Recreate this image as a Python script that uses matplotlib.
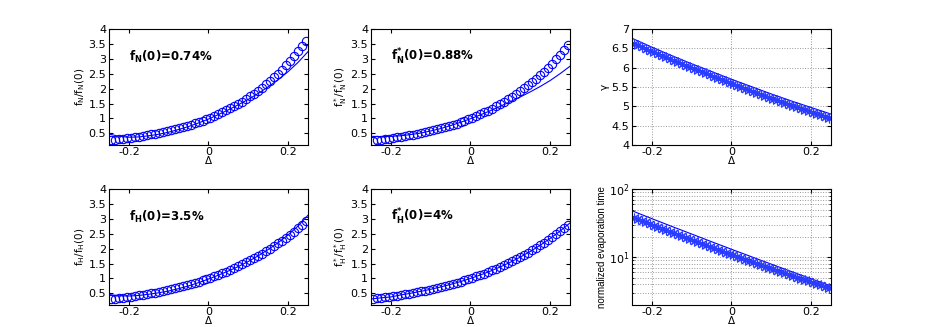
import matplotlib

matplotlib.use("Agg")
import matplotlib.pyplot as plt
from matplotlib.ticker import LogLocator, NullFormatter

# sample grid of the marker series
delta_pts = [-0.245, -0.235, -0.225, -0.215, -0.205, -0.195, -0.185, -0.175, -0.165, -0.155,
             -0.145, -0.135, -0.125, -0.115, -0.105, -0.095, -0.085, -0.075, -0.065, -0.055,
             -0.045, -0.035, -0.025, -0.015, -0.005, 0.005, 0.015, 0.025, 0.035, 0.045,
             0.055, 0.065, 0.075, 0.085, 0.095, 0.105, 0.115, 0.125, 0.135, 0.145,
             0.155, 0.165, 0.175, 0.185, 0.195, 0.205, 0.215, 0.225, 0.235, 0.245]

# grids of the fitted lines
delta_fine = [-0.25, -0.225, -0.2, -0.175, -0.15, -0.125, -0.1, -0.075, -0.05, -0.025, 0.0,
              0.025, 0.05, 0.075, 0.1, 0.125, 0.15, 0.175, 0.2, 0.225, 0.25]
delta_coarse = [-0.25, -0.2, -0.15, -0.1, -0.05, 0.0, 0.05, 0.1, 0.15, 0.2, 0.25]

fN_pts = [0.270, 0.285, 0.301, 0.317, 0.335, 0.353, 0.373, 0.393, 0.415, 0.438,
          0.462, 0.488, 0.514, 0.543, 0.572, 0.604, 0.637, 0.672, 0.708, 0.747,
          0.788, 0.831, 0.876, 0.924, 0.974, 1.027, 1.083, 1.141, 1.203, 1.268,
          1.337, 1.409, 1.485, 1.565, 1.649, 1.738, 1.831, 1.930, 2.034, 2.143,
          2.257, 2.379, 2.507, 2.641, 2.782, 2.930, 3.086, 3.251, 3.421, 3.604]
fN_fit = [0.48, 0.40, 0.37, 0.38, 0.42, 0.47, 0.54, 0.63, 0.73, 0.85, 0.98,
          1.13, 1.29, 1.46, 1.64, 1.84, 2.06, 2.30, 2.57, 2.88, 3.24]

fNs_pts = [0.259, 0.275, 0.291, 0.308, 0.326, 0.345, 0.365, 0.386, 0.408, 0.431,
           0.456, 0.482, 0.509, 0.538, 0.569, 0.600, 0.634, 0.670, 0.707, 0.746,
           0.787, 0.830, 0.876, 0.924, 0.974, 1.027, 1.082, 1.140, 1.202, 1.266,
           1.333, 1.404, 1.478, 1.556, 1.638, 1.723, 1.813, 1.907, 2.006, 2.109,
           2.217, 2.330, 2.449, 2.573, 2.703, 2.839, 2.981, 3.130, 3.285, 3.448]
fNs_fit = [0.40, 0.39, 0.40, 0.42, 0.46, 0.51, 0.58, 0.66, 0.76, 0.87, 0.99,
           1.12, 1.26, 1.41, 1.56, 1.72, 1.89, 2.07, 2.27, 2.50, 2.75]

fH_pts = [0.300, 0.316, 0.332, 0.350, 0.368, 0.388, 0.408, 0.429, 0.451, 0.474,
          0.498, 0.524, 0.550, 0.578, 0.607, 0.637, 0.669, 0.702, 0.736, 0.772,
          0.810, 0.849, 0.890, 0.932, 0.977, 1.023, 1.072, 1.122, 1.175, 1.229,
          1.286, 1.346, 1.407, 1.472, 1.538, 1.608, 1.680, 1.755, 1.833, 1.914,
          1.998, 2.085, 2.176, 2.270, 2.368, 2.469, 2.574, 2.683, 2.796, 2.912]
fH_fit = [0.46, 0.42, 0.41, 0.43, 0.47, 0.52, 0.58, 0.66, 0.75, 0.86, 0.98,
          1.11, 1.25, 1.40, 1.57, 1.76, 1.97, 2.20, 2.46, 2.76, 3.12]

fHs_pts = [0.320, 0.336, 0.352, 0.370, 0.388, 0.407, 0.427, 0.448, 0.470, 0.492,
           0.516, 0.541, 0.567, 0.594, 0.622, 0.651, 0.682, 0.714, 0.747, 0.782,
           0.818, 0.855, 0.895, 0.935, 0.978, 1.022, 1.069, 1.117, 1.166, 1.218,
           1.272, 1.329, 1.387, 1.448, 1.511, 1.576, 1.645, 1.715, 1.789, 1.865,
           1.944, 2.026, 2.112, 2.200, 2.292, 2.387, 2.486, 2.588, 2.693, 2.803]
fHs_fit = [0.31, 0.35, 0.38, 0.448, 0.504, 0.567, 0.636, 0.714, 0.80, 0.895, 1.0,
           1.117, 1.245, 1.387, 1.543, 1.715, 1.904, 2.112, 2.339, 2.588, 2.86]

gamma_pts = [6.620, 6.575, 6.531, 6.487, 6.442, 6.399, 6.355, 6.312, 6.268, 6.225,
             6.183, 6.140, 6.098, 6.056, 6.014, 5.973, 5.932, 5.891, 5.850, 5.809,
             5.769, 5.729, 5.689, 5.649, 5.610, 5.570, 5.532, 5.493, 5.454, 5.416,
             5.378, 5.340, 5.303, 5.266, 5.228, 5.192, 5.155, 5.119, 5.082, 5.047,
             5.011, 4.975, 4.940, 4.905, 4.871, 4.836, 4.802, 4.768, 4.734, 4.700]
gamma_fit_a = [6.76, 6.53, 6.31, 6.10, 5.90, 5.70, 5.51, 5.32, 5.14, 4.97, 4.80]
gamma_fit_b = [6.66, 6.438, 6.222, 6.012, 5.808, 5.61, 5.418, 5.232, 5.052, 4.878, 4.71]

tevap_pts = [38.0, 36.04, 34.18, 32.41, 30.75, 29.17, 27.68, 26.27, 24.95, 23.69,
             22.50, 21.38, 20.31, 19.30, 18.35, 17.45, 16.59, 15.78, 15.01, 14.28,
             13.60, 12.95, 12.33, 11.74, 11.18, 10.65, 10.15, 9.68, 9.22, 8.80,
             8.39, 8.00, 7.64, 7.29, 6.96, 6.64, 6.34, 6.06, 5.79, 5.53,
             5.29, 5.05, 4.83, 4.62, 4.42, 4.23, 4.05, 3.87, 3.71, 3.55]
tevap_fit_a = [48.0, 36.8, 28.3, 21.9, 16.9, 13.1, 10.19, 7.93, 6.19, 4.85, 3.80]
tevap_fit_b = [40.0, 30.77, 23.78, 18.47, 14.41, 11.30, 8.90, 7.05, 5.61, 4.48, 3.60]

ratio_panels = [
    (fN_pts, fN_fit, r"$\mathrm{f_N/f_N(0)}$", r"f$_{\mathbf{N}}$(0)=0.74%"),
    (fNs_pts, fNs_fit, r"$\mathrm{f^*_N/f^*_N(0)}$", r"f$^{\mathbf{*}}_{\mathbf{N}}$(0)=0.88%"),
    (fH_pts, fH_fit, r"$\mathrm{f_H/f_H(0)}$", r"f$_{\mathbf{H}}$(0)=3.5%"),
    (fHs_pts, fHs_fit, r"$\mathrm{f^*_H/f^*_H(0)}$", r"f$^{\mathbf{*}}_{\mathbf{H}}$(0)=4%"),
]

BLUE = "#0000ff"
plt.rcParams.update(
    {
        "font.family": ["DejaVu Sans"],
        "font.size": 8,
        "xtick.labelsize": 8,
        "ytick.labelsize": 8,
        "xtick.direction": "in",
        "ytick.direction": "in",
        "xtick.top": True,
        "ytick.right": True,
        "xtick.major.size": 3,
        "ytick.major.size": 3,
        "xtick.minor.size": 1.5,
        "ytick.minor.size": 1.5,
        "axes.linewidth": 0.8,
        "mathtext.default": "regular",
    }
)

fig = plt.figure(figsize=(9.26, 3.27), dpi=100)
lefts = [0.1177, 0.4006, 0.6825]
bottoms = [0.5566, 0.0673]
w, h = 0.2149, 0.3547


def style_x(ax):
    ax.set_xlim(-0.25, 0.25)
    ax.set_xticks([-0.2, 0, 0.2], labels=["-0.2", "0", "0.2"])
    ax.set_xlabel("Δ", fontsize=7.5, labelpad=-1)
    ax.tick_params(axis="x", pad=1.5)
    ax.tick_params(axis="y", pad=2)


slots = [(0, 0), (0, 1), (1, 0), (1, 1)]
for (r, c), (pts, fit, ylab, note) in zip(slots, ratio_panels):
    ax = fig.add_axes([lefts[c], bottoms[r], w, h])
    ax.plot(delta_fine, fit, color=BLUE, lw=0.8)
    ax.plot(delta_pts, pts, "o", mfc="none", mec=BLUE, ms=6, mew=0.8)
    style_x(ax)
    ax.set_ylim(0.11, 4)
    ax.set_yticks([0.5, 1, 1.5, 2, 2.5, 3, 3.5, 4],
                  labels=["0.5", "1", "1.5", "2", "2.5", "3", "3.5", "4"])
    ax.set_ylabel(ylab, fontsize=7.5, labelpad=1)
    ax.text(-0.2, 3.05, note, fontsize=8.5, fontweight="bold", va="center", ha="left")

# gamma panel
ax = fig.add_axes([lefts[2], bottoms[0], w, h])
ax.plot(delta_coarse, gamma_fit_a, color=BLUE, lw=0.8)
ax.plot(delta_coarse, gamma_fit_b, color=BLUE, lw=0.8)
ax.plot(delta_pts, gamma_pts, ls="none", marker=(8, 2, 0), color="#2a3cff", ms=7, mew=0.8)
style_x(ax)
ax.set_ylim(4, 7)
ax.set_yticks([4, 4.5, 5, 5.5, 6, 6.5, 7], labels=["4", "4.5", "5", "5.5", "6", "6.5", "7"])
ax.grid(True, ls=":", color="#999999", lw=0.7)
ax.set_ylabel("γ", fontsize=7.5, labelpad=1)

# evaporation time panel
ax = fig.add_axes([lefts[2], bottoms[1], w, h])
ax.set_yscale("log")
ax.plot(delta_coarse, tevap_fit_a, color=BLUE, lw=0.8)
ax.plot(delta_coarse, tevap_fit_b, color=BLUE, lw=0.8)
ax.plot(delta_pts, tevap_pts, ls="none", marker=(8, 2, 0), color="#2a3cff", ms=7, mew=0.8)
style_x(ax)
ax.set_ylim(2, 100)
ax.yaxis.set_major_locator(LogLocator(base=10))
ax.yaxis.set_minor_locator(LogLocator(base=10, subs=range(2, 10)))
ax.yaxis.set_minor_formatter(NullFormatter())
ax.grid(True, which="major", ls=":", color="#999999", lw=0.7)
ax.grid(True, which="minor", axis="y", ls=":", color="#999999", lw=0.7)
ax.set_ylabel("normalized evaporation time", family=["Liberation Sans Narrow", "Liberation Sans"],
              fontsize=7, labelpad=1)

fig.savefig("out.png", dpi=100, facecolor="white")
